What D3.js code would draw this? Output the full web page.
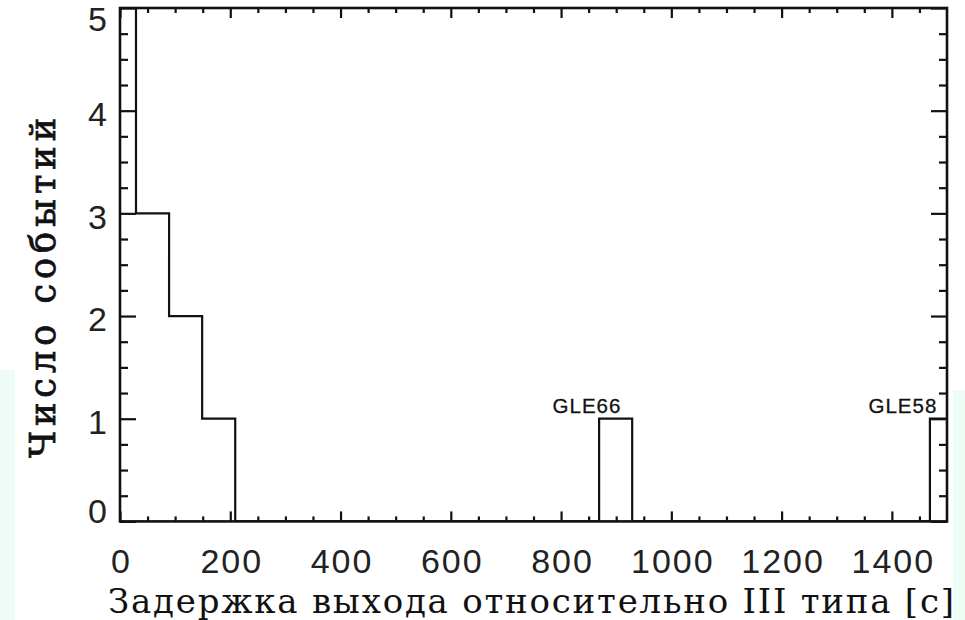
<!DOCTYPE html>
<html>
<head>
<meta charset="utf-8">
<script src="https://cdn.jsdelivr.net/npm/d3@7"></script>
<style>
    body { margin: 0; background: #fff; }
    svg { display: block; }
</style>
</head>
<body>
<div id="graph-container"></div>
<script>
// Histogram bins (left edge, seconds) and event counts, bin width 60 s
const binLeft = [-31, 29, 89, 149, 869, 1469];
const binCounts = [5, 3, 2, 1, 1, 1];
const binWidth = 60;

// Tick values
const xMajorTicks = [0, 200, 400, 600, 800, 1000, 1200, 1400];
const xMinorTicks = [50, 100, 150, 250, 300, 350, 450, 500, 550, 650, 700, 750, 850, 900, 950,
    1050, 1100, 1150, 1250, 1300, 1350, 1450];
const yMajorTicks = [0, 1, 2, 3, 4, 5];
const yMinorTicks = [0.25, 0.5, 0.75, 1.25, 1.5, 1.75, 2.25, 2.5, 2.75, 3.25, 3.5, 3.75, 4.25, 4.5, 4.75];

// Event labels
const eventNames = ["GLE66", "GLE58"];
const eventPos = [847, 1420];
const eventCount = [1, 1];

const xTitle = "Задержка выхода относительно III типа [с]";
const yTitle = "Число событий";

document.addEventListener("DOMContentLoaded", () => {
    const svgWidth = 965;
    const svgHeight = 620;
    const margin = { top: 8, right: 18, bottom: 98.6, left: 120 };
    const width = svgWidth - margin.left - margin.right;
    const height = svgHeight - margin.top - margin.bottom;

    const svg = d3.select("#graph-container").append("svg")
        .attr("width", svgWidth)
        .attr("height", svgHeight);

    // pale strips at the edges of the original slide
    svg.append("rect").attr("x", 0).attr("y", 370).attr("width", 15).attr("height", 250).attr("fill", "#eefcf6");
    svg.append("rect").attr("x", 953).attr("y", 390).attr("width", 12).attr("height", 230).attr("fill", "#eefcf6");

    const g = svg.append("g")
        .attr("transform", `translate(${margin.left}, ${margin.top})`);

    const x = d3.scaleLinear().domain([0, 1500]).range([0, width]);
    const y = d3.scaleLinear().domain([0, 5]).range([height, 0]);

    g.append("clipPath").attr("id", "plot-clip")
        .append("rect").attr("width", width).attr("height", height);

    // Step outline of the histogram
    const pts = [];
    let prevEnd = null;
    binLeft.forEach((x0, i) => {
        const x1 = x0 + binWidth;
        if (prevEnd === null) pts.push([x0, 0]);
        else if (prevEnd !== x0) { pts.push([prevEnd, 0]); pts.push([x0, 0]); }
        pts.push([x0, binCounts[i]]);
        pts.push([x1, binCounts[i]]);
        prevEnd = x1;
    });
    pts.push([prevEnd, 0]);

    const line = d3.line().x(d => x(d[0])).y(d => y(d[1]));
    g.append("path")
        .attr("clip-path", "url(#plot-clip)")
        .attr("d", line(pts))
        .attr("fill", "none")
        .attr("stroke", "#111")
        .attr("stroke-width", 2.2);

    // Axes: ticks point inwards on all four sides
    const tickFont = "'Liberation Sans', Arial, sans-serif";
    const titleFont = "'DejaVu Serif', 'Liberation Serif', serif";

    const xb = g.append("g").attr("class", "x-axis").attr("transform", `translate(0, ${height})`)
        .call(d3.axisBottom(x).tickValues(xMajorTicks).tickSize(-10).tickPadding(27).tickFormat(d3.format("d")));
    g.append("g").attr("transform", `translate(0, ${height})`)
        .call(d3.axisBottom(x).tickValues(xMinorTicks).tickSize(-5).tickFormat(""));
    g.append("g")
        .call(d3.axisTop(x).tickValues(xMajorTicks).tickSize(-10).tickFormat(""));
    g.append("g")
        .call(d3.axisTop(x).tickValues(xMinorTicks).tickSize(-5).tickFormat(""));

    const yl = g.append("g").attr("class", "y-axis")
        .call(d3.axisLeft(y).tickValues(yMajorTicks).tickSize(-16).tickPadding(13).tickFormat(d3.format("d")));
    g.append("g")
        .call(d3.axisLeft(y).tickValues(yMinorTicks).tickSize(-8).tickFormat(""));
    g.append("g").attr("transform", `translate(${width}, 0)`)
        .call(d3.axisRight(y).tickValues(yMajorTicks).tickSize(-16).tickFormat(""));
    g.append("g").attr("transform", `translate(${width}, 0)`)
        .call(d3.axisRight(y).tickValues(yMinorTicks).tickSize(-8).tickFormat(""));

    g.selectAll(".domain").remove();
    g.selectAll(".tick line").attr("stroke", "#111").attr("stroke-width", 2.2);

    xb.selectAll("text")
        .attr("font-family", tickFont).attr("font-size", 34)
        .attr("letter-spacing", 2).attr("fill", "#222")
        .attr("dx", 1);
    yl.selectAll("text")
        .attr("font-family", tickFont).attr("font-size", 34)
        .attr("letter-spacing", 2).attr("fill", "#222")
        .attr("x", -11)
        .attr("y", d => d === 5 ? 12 : d === 0 ? -10 : 4);

    // Frame
    g.append("rect")
        .attr("width", width).attr("height", height)
        .attr("fill", "none").attr("stroke", "#111").attr("stroke-width", 2.6);

    // Event labels
    g.selectAll(".event-label").data(eventNames).enter().append("text")
        .attr("class", "event-label")
        .attr("x", (d, i) => x(eventPos[i]))
        .attr("y", (d, i) => y(eventCount[i]) - 5.5)
        .attr("text-anchor", "middle")
        .attr("font-family", tickFont).attr("font-size", 20.5)
        .attr("letter-spacing", 1).attr("fill", "#111")
        .attr("stroke", "#111").attr("stroke-width", 0.3)
        .text(d => d);

    // Axis titles
    svg.append("text")
        .attr("x", 108).attr("y", 613)
        .attr("font-family", titleFont)
        .attr("font-size", 34).attr("fill", "#111")
        .attr("textLength", 846).attr("lengthAdjust", "spacing")
        .text(xTitle);

    svg.append("text")
        .attr("transform", "translate(55, 458) rotate(-90)")
        .attr("font-family", titleFont)
        .attr("font-size", 35).attr("fill", "#111")
        .attr("stroke", "#111").attr("stroke-width", 0.8)
        .attr("textLength", 340).attr("lengthAdjust", "spacing")
        .text(yTitle);
});
</script>
</body>
</html>
